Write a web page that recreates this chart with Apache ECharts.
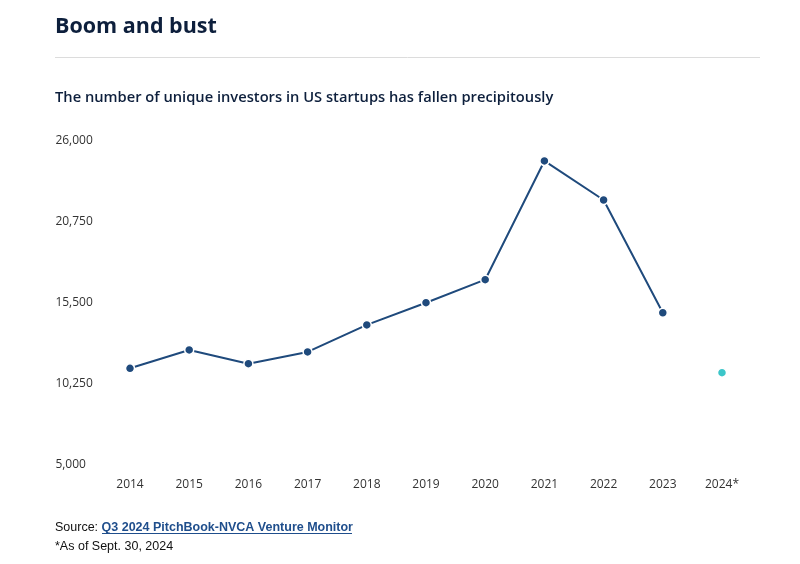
<!DOCTYPE html>
<html>
<head>
<meta charset="utf-8">
<script src="https://cdn.jsdelivr.net/npm/echarts@6/dist/echarts.min.js"></script>
<style>
html,body{margin:0;padding:0;background:#fff;}
#chart{width:800px;height:564px;}
</style>
</head>
<body>
<div id="chart"></div>
<script>
const years = ['2014','2015','2016','2017','2018','2019','2020','2021','2022','2023','2024*'];
const investors = [11260, 12450, 11560, 12320, 14070, 15510, 17000, 24690, 22160, 14860, null];
const investors2024 = [null, null, null, null, null, null, null, null, null, null, 10980];
const yTicks = [5000, 10250, 15500, 20750, 26000];

const chart = echarts.init(document.getElementById('chart'));
const fmt = v => v.toLocaleString('en-US');
chart.setOption({
  animation: false,
  backgroundColor: '#ffffff',
  title: [
    {text: 'Boom and bust', left: 55, top: 15.5, padding: 0,
     textStyle: {fontFamily: 'Open Sans', fontWeight: 'bold', fontSize: 21.5, color: '#0d1f3c'}},
    {text: 'The number of unique investors in US startups has fallen precipitously', left: 55, top: 90, padding: 0,
     textStyle: {fontFamily: 'Open Sans', fontWeight: 600, fontSize: 14.7, color: '#0d1f3c'}},
    {text: 'Source: {link|Q3 2024 PitchBook-NVCA Venture Monitor}', left: 55, top: 521, padding: 0,
     textStyle: {fontFamily: 'Liberation Sans', fontSize: 12.5, fontWeight: 'normal', color: '#111',
       rich: {link: {fontFamily: 'Liberation Sans', fontSize: 12.5, fontWeight: 'bold', color: '#1f4e8c'}}}},
    {text: '*As of Sept. 30, 2024', left: 55, top: 540.5, padding: 0,
     textStyle: {fontFamily: 'Liberation Sans', fontSize: 12.5, fontWeight: 'normal', color: '#111'}}
  ],
  graphic: [
    {type: 'line', shape: {x1: 55, y1: 57.5, x2: 760, y2: 57.5}, style: {stroke: '#dcdcdc', lineWidth: 1}},
    {type: 'line', shape: {x1: 102, y1: 533.5, x2: 352, y2: 533.5}, style: {stroke: '#1f4e8c', lineWidth: 1}}
  ],
  grid: {left: 100.4, right: 48.4, top: 140.7, bottom: 99, containLabel: false},
  xAxis: {
    type: 'category', data: years, boundaryGap: true,
    axisLine: {show: false}, axisTick: {show: false},
    axisLabel: {margin: 14, fontFamily: 'Open Sans', fontSize: 12, color: '#333'}
  },
  yAxis: {
    type: 'value', min: 5000, max: 26000, interval: 5250,
    splitLine: {show: false}, axisLine: {show: false}, axisTick: {show: false},
    axisLabel: {margin: 45, align: 'left', fontFamily: 'Open Sans', fontSize: 12, color: '#333', formatter: fmt}
  },
  series: [
    {type: 'line', data: investors, connectNulls: false,
     lineStyle: {color: '#1f4a7c', width: 2}, itemStyle: {color: '#1f4a7c', borderColor: '#fff', borderWidth: 1.5},
     symbol: 'circle', symbolSize: 9, showAllSymbol: true},
    {type: 'line', data: investors2024,
     itemStyle: {color: '#3cc6c9', borderColor: '#fff', borderWidth: 1.5},
     symbol: 'circle', symbolSize: 9}
  ]
});
</script>
</body>
</html>
